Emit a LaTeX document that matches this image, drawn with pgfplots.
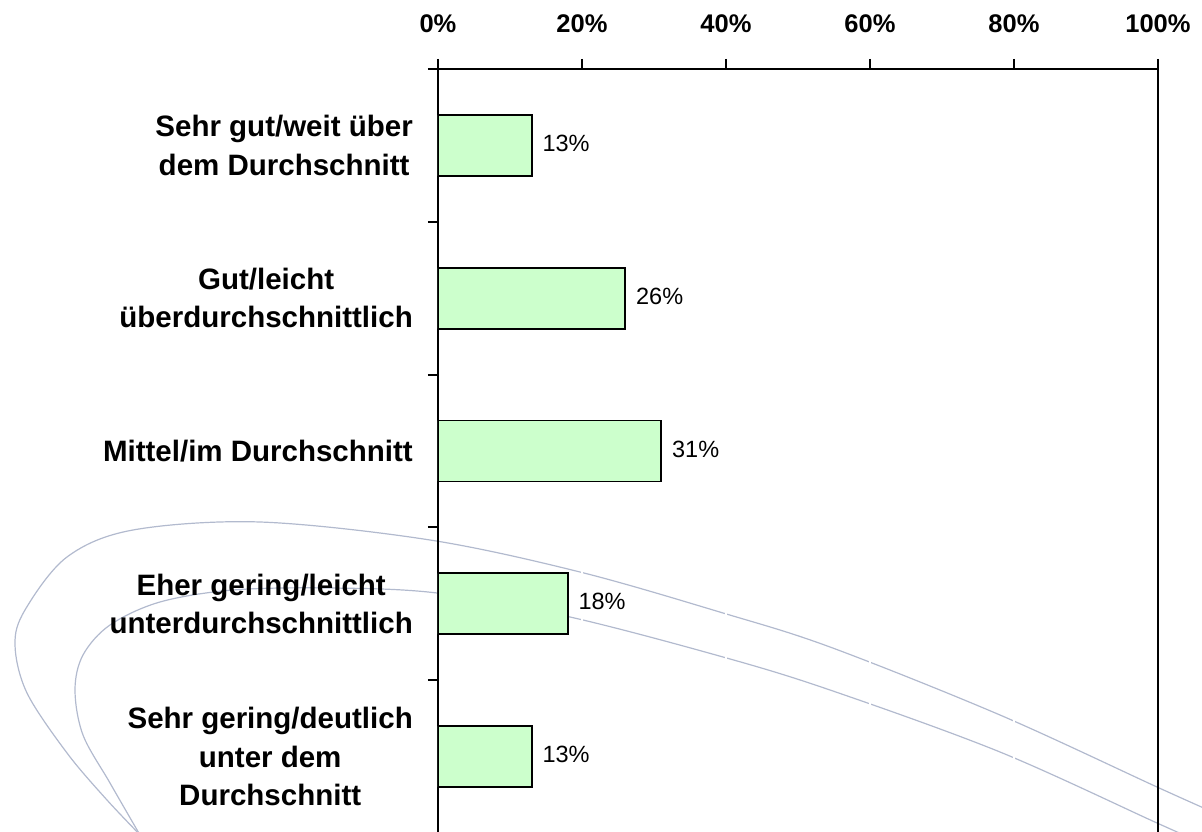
\documentclass[border=0pt]{standalone}
\usepackage{fontspec}
\setmainfont{Liberation Sans}
\usepackage{pgfplots}
\pgfplotsset{compat=1.18}
\definecolor{barfill}{HTML}{CCFFCC}
\definecolor{swoosh}{HTML}{B2BACE}
\begin{document}
\begin{tikzpicture}
% decorative background swooshes
\begin{scope}[x=1bp,y=1bp]
\draw[swoosh, line width=1.2bp] plot[smooth, tension=0.55] coordinates {(777,20) (719,46) (562,118) (392,186) (285,220) (142,261) (-8,293) (-178,311) (-305,303) (-371,276) (-413,223) (-423,188) (-411,140) (-371,80) (-331,33) (-293,-7)};
\draw[swoosh, line width=1.2bp] plot[smooth, tension=0.55] coordinates {(762,-9) (719,10) (562,81) (392,143) (285,176) (132,216) (-1,240) (-108,245) (-205,243) (-278,231) (-328,208) (-355,178) (-363,143) (-355,98) (-328,50) (-298,-2)};
\end{scope}
\begin{axis}[
  at={(0,0)}, anchor=south west,
  scale only axis, width=720bp, height=764bp,
  xmin=0, xmax=100, ymin=0.5, ymax=5.5,
  xbar, bar width=61bp,
  xtick={0,20,40,60,80,100},
  xticklabels={0\%,20\%,40\%,60\%,80\%,100\%},
  xtick pos=right, xticklabel pos=right,
  ytick={0.5,1.5,2.5,3.5,4.5,5.5}, yticklabels={},
  ytick pos=left,
  extra y ticks={1,2,3,4,5},
  extra y tick labels={{Sehr gering/deutlich\\unter dem\\Durchschnitt},{Eher gering/leicht\\unterdurchschnittlich},{Mittel/im Durchschnitt},{Gut/leicht\\überdurchschnittlich},{Sehr gut/weit über\\dem Durchschnitt}},
  extra y tick style={major tick length=0pt},
  tick align=outside, major tick length=10bp,
  axis line style={line width=1.9bp, black},
  every tick/.style={black, line width=1.9bp},
  xmajorgrids, major grid style={white, line width=2bp},
  xticklabel style={font=\fontsize{25.5bp}{30bp}\selectfont\bfseries, inner sep=0pt, yshift=26bp},
  yticklabel style={font=\fontsize{29.5bp}{38.5bp}\selectfont\bfseries, align=center, inner sep=0pt, xshift=-25bp},
  /pgf/number format/assume math mode=true,
  nodes near coords={\pgfmathprintnumber{\pgfplotspointmeta}\%},
  nodes near coords style={font=\fontsize{23.5bp}{27bp}\selectfont, anchor=west, inner sep=0pt, xshift=10bp, yshift=2bp, black},
]
\addplot[fill=barfill, draw=black, line width=1.9bp] coordinates {(13,5) (26,4) (31,3) (18,2) (13,1)};
\end{axis}
\pgfresetboundingbox
\path (-438bp,1bp) rectangle (764bp,833bp);
\end{tikzpicture}
\end{document}
